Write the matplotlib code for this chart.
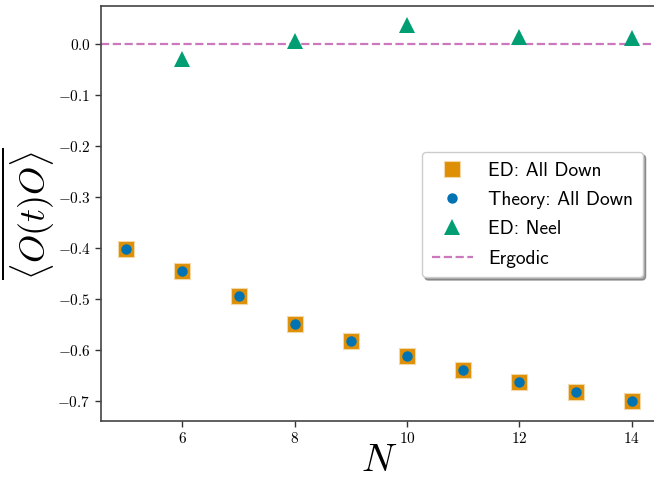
import matplotlib
matplotlib.use("Agg")
import matplotlib.pyplot as plt
from matplotlib.ticker import FuncFormatter
from matplotlib.font_manager import FontProperties

plt.rcParams['mathtext.fontset'] = 'cm'

N_all = [5, 6, 7, 8, 9, 10, 11, 12, 13, 14]
ed_all_down = [-0.401, -0.445, -0.493, -0.549, -0.582, -0.611, -0.639, -0.662, -0.682, -0.700]
theory_all_down = [-0.401, -0.445, -0.493, -0.549, -0.582, -0.611, -0.639, -0.662, -0.682, -0.700]
N_neel = [6, 8, 10, 12, 14]
ed_neel = [-0.028, 0.006, 0.038, 0.015, 0.012]
ergodic = 0.0

c_orange = '#DE8F05'
c_blue = '#0173B2'
c_green = '#029E73'
c_pink = '#CC78BC'

fig = plt.figure(figsize=(6.54, 4.78), dpi=100)
ax = fig.add_axes([101/654, 1-421/478, 556/654, 415/478])

ax.plot(N_all, ed_all_down, 's', color=c_orange, markersize=12, markeredgecolor='#F3D9A8',
        markeredgewidth=0.8, label='ED: All Down', zorder=3)
ax.plot(N_all, theory_all_down, 'o', color=c_blue, markersize=7.5, markeredgewidth=0,
        label='Theory: All Down', zorder=4)
ax.plot(N_neel, ed_neel, '^', color=c_green, markersize=12, markeredgewidth=0,
        label='ED: Neel', zorder=3)
ax.axhline(ergodic, color=c_pink, linestyle='--', linewidth=1.6, label='Ergodic', zorder=2)

ax.set_xlim(4.55, 14.45)
ax.set_ylim(-0.739, 0.0755)
ax.set_xticks([6, 8, 10, 12, 14])
ax.set_yticks([-0.7, -0.6, -0.5, -0.4, -0.3, -0.2, -0.1, 0.0])
ax.xaxis.set_major_formatter(FuncFormatter(lambda v, p: r'$%d$' % round(v)))
ax.yaxis.set_major_formatter(FuncFormatter(lambda v, p: r'$%.1f$' % v if abs(v) > 1e-9 else r'$0.0$'))
ax.tick_params(labelsize=11, color='#333333', length=4, width=1)
for s in ax.spines.values():
    s.set_color('#444444')
    s.set_linewidth(1.2)

ax.set_xlabel(r'$N$', fontsize=28, labelpad=-4)
ax.set_ylabel(r'$\overline{\langle O(t) O \rangle}$', fontsize=26, labelpad=0)

leg_font = FontProperties(family='cmss10', size=14)
leg = ax.legend(loc='upper left', bbox_to_anchor=((422-101)/556, (421-152)/415),
                prop=leg_font, shadow=True, fancybox=True, framealpha=1,
                handlelength=2.1, borderpad=0.5, labelspacing=0.58, handletextpad=0.8,
                borderaxespad=0)
leg.get_frame().set_edgecolor('#cccccc')

fig.savefig('out.png', dpi=100)
